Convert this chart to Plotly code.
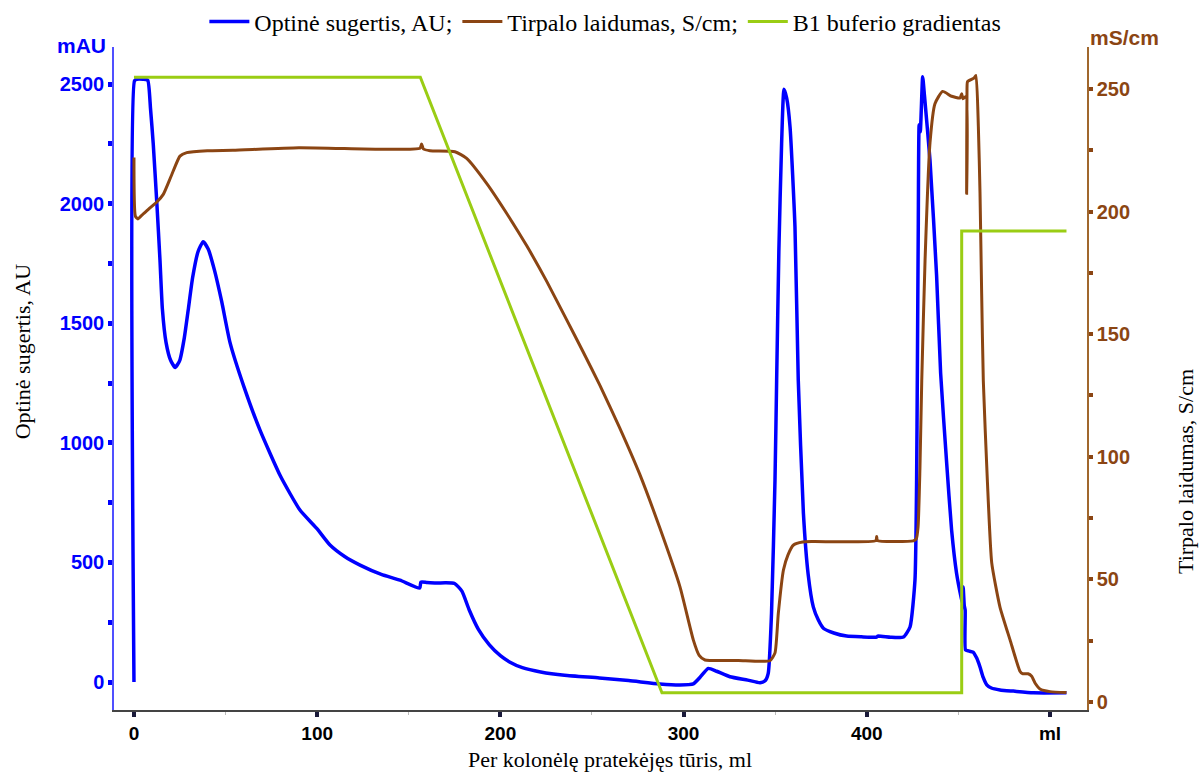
import plotly.graph_objects as go

# ---------------- data ----------------
# Optical absorbance (mAU) vs volume (ml)
blue_ml = [0, 0.3, 1.5, 5, 7.5, 9, 10.5, 12.5, 14.2, 15.5,
           17.5, 20, 22.5, 25, 27.5, 29.6, 32, 35, 37.8, 40.5,
           44, 47.9, 52.4, 60, 68.8, 80, 90.6, 100, 107, 115,
           123.4, 135, 145.2, 156, 156.6, 160, 165, 170, 175, 179,
           183, 188, 194, 200, 205, 212, 222, 235, 254, 270,
           287, 298, 305.3, 309, 313.5, 318, 325.3, 335, 341.7, 344.5,
           346.2, 348, 349.9, 350.8, 352, 353.5, 354.8, 356.3, 358.1, 360.8,
           362.6, 365.4, 368, 370.8, 373.5, 376.3, 382, 389, 397, 405.4,
           406, 413, 420, 423.6, 426.3, 427.2, 427.6, 428.1, 428.6, 429.2,
           430.5, 431.5, 434.5, 438.1, 440.3, 443.6, 446.3, 449, 451.4, 452.2,
           452.6, 453.2, 453.7, 453.9, 455.5, 458, 460, 461.8, 463.5, 465.5,
           468, 472.7, 480, 490.8, 509]
blue_mau = [0, 2514, 2520, 2520, 2516, 2400, 2252, 2000, 1764, 1560,
            1420, 1345, 1315, 1345, 1440, 1555, 1690, 1800, 1841, 1810,
            1720, 1590, 1420, 1235, 1053, 860, 719, 640, 573, 525,
            489, 450, 426, 393, 418, 416, 414, 415, 412, 380,
            301, 220, 155, 110, 84, 60, 42, 28, 17, 6,
            -8, -12.5, -8, 20, 57, 45, 22, 8, -3, 5,
            36, 288, 845, 1262, 1800, 2250, 2478, 2440, 2321, 1903,
            1262, 706, 450, 314, 260, 225, 205, 192, 189, 188,
            192, 187, 188, 230, 426, 845, 1292, 1902, 2330, 2300,
            2531, 2450, 2182, 1700, 1292, 915, 635, 455, 357, 330,
            397, 320, 300, 134, 130, 125, 100, 63, 20, -12,
            -25, -33, -38, -45, -45]

# Conductivity (mS/cm) vs volume (ml)
brown_ml = [0, 0.8, 2.2, 5, 8, 12.6, 16, 20.6, 25.1, 28.8,
            40, 54, 90, 134.3, 156.1, 157, 158, 161.6, 175.2, 181.6,
            192.5, 203.4, 214.4, 225.3, 236.2, 245, 254.4, 265, 276, 287,
            298, 305.3, 308.5,
            311.7, 330, 347.1, 349.9, 351.7, 354.5, 357, 360, 365, 370.8,
            405.0, 405.4, 405.8, 425.4, 427, 428, 429, 430, 431.8, 434.5,
            437.2, 441.4, 446.3, 450.9, 451.8, 452.5, 454.3, 454.5, 454.7, 455,
            458.5, 459.6, 460.9, 461.8, 462.7, 463.6, 465.8, 468.2, 472.7, 478.2,
            483.6, 485, 488, 490, 492, 494.5, 500, 509]
brown_ms = [222, 198, 197, 199, 201, 204, 207, 215, 222.6, 224,
            224.8, 225, 226, 225.4, 225.8, 227.5, 225.5, 224.8, 224.4, 221.7,
            211.5, 199.3, 186, 171.5, 155.8, 143, 129, 112, 93, 71,
            47, 25.3, 19,
            17.1, 16.9, 16.8, 20, 36, 53.8, 60, 64, 65.2, 65.4,
            65.8, 67.5, 65.8, 65.7, 66.5, 71.5, 95, 131, 180, 228,
            244, 249, 247, 246.3, 248, 246, 247, 207.5, 250, 253,
            254.4, 255.5, 234.6, 207.5, 166.6, 131, 90.5, 56.7, 38.7, 25.3,
            12.5, 11.5, 11.5, 10.5, 7.5, 5.3, 4.2, 3.8]

# B1 buffer gradient (%) vs volume (ml)
green_ml = [0, 156.3, 288.2, 451.8, 451.8, 509]
green_pct = [100, 100, 0, 0, 75, 75]

x_tickvals = [0, 100, 200, 300, 400, 500]
x_ticktext = ["0", "100", "200", "300", "400", "ml"]
left_tickvals = [0, 500, 1000, 1500, 2000, 2500]
right_tickvals = [0, 50, 100, 150, 200, 250]

legend_names = ["Optinė sugertis, AU;", "Tirpalo laidumas, S/cm;", "B1 buferio gradientas"]

BLUE = "#0000FF"
BROWN = "#8B4513"
GREEN = "#9ACD14"
SERIF = "Liberation Serif, Times New Roman, serif"
SANS = "Liberation Sans, Arial, sans-serif"

fig = go.Figure()
fig.add_trace(go.Scatter(x=blue_ml, y=blue_mau, mode="lines", name=legend_names[0],
                         line=dict(color=BLUE, width=3.5, shape="spline", smoothing=0.5), yaxis="y"))
fig.add_trace(go.Scatter(x=brown_ml, y=brown_ms, mode="lines", name=legend_names[1],
                         line=dict(color=BROWN, width=3, shape="spline", smoothing=0.5), yaxis="y2"))
fig.add_trace(go.Scatter(x=green_ml, y=green_pct, mode="lines", name=legend_names[2],
                         line=dict(color=GREEN, width=3), yaxis="y3"))

fig.update_layout(
    width=1199, height=776,
    margin=dict(l=114, r=112, t=47, b=66, autoexpand=False),
    paper_bgcolor="white", plot_bgcolor="white",
    showlegend=True,
    legend=dict(orientation="h", x=0.505, y=1.0377, xanchor="center", yanchor="middle",
                font=dict(family=SERIF, size=24, color="black"),
                bgcolor="rgba(0,0,0,0)", itemwidth=40, tracegroupgap=0),
    xaxis=dict(range=[-10.9, 520.2], tickvals=x_tickvals, ticktext=x_ticktext,
               showgrid=False, zeroline=False, showline=True, linecolor="#444444", linewidth=2,
               ticks="outside", ticklen=5, tickwidth=4, tickcolor="#1a1a3a",
               minor=dict(dtick=50, tick0=0, ticks="outside", ticklen=3, tickwidth=1, tickcolor="#bbbbbb"),
               tickfont=dict(family=SANS, size=19, color="black", weight="bold")),
    yaxis=dict(range=[-117, 2655], tickvals=left_tickvals, showgrid=False, zeroline=False,
               showline=True, linecolor="#5050ff", linewidth=1.5,
               ticks="outside", ticklen=4, tickwidth=5, tickcolor=BLUE,
               minor=dict(dtick=250, tick0=0, ticks="outside", ticklen=4, tickwidth=5, tickcolor=BLUE),
               tickfont=dict(family=SANS, size=20, color=BLUE, weight="bold")),
    yaxis2=dict(range=[-3.3, 267.1], tickvals=right_tickvals, overlaying="y", side="right",
                showgrid=False, zeroline=False, showline=True, linecolor="#a0672d", linewidth=1.5,
                ticks="outside", ticklen=4, tickwidth=4, tickcolor=BROWN,
                minor=dict(dtick=25, tick0=0, ticks="outside", ticklen=4, tickwidth=4, tickcolor=BROWN),
                tickfont=dict(family=SANS, size=20, color=BROWN, weight="bold")),
    yaxis3=dict(range=[-2.8, 104.9], overlaying="y", visible=False, showgrid=False, zeroline=False),
    annotations=[
        dict(text="<b>mAU</b>", xref="paper", yref="paper", x=-0.0334, y=1.003,
             xanchor="center", yanchor="middle",
             showarrow=False, font=dict(family=SANS, size=21, color=BLUE)),
        dict(text="<b>mS/cm</b>", xref="paper", yref="paper", x=1.039, y=1.0136,
             xanchor="center", yanchor="middle",
             showarrow=False, font=dict(family=SANS, size=21, color=BROWN)),
        dict(text="Optinė sugertis, AU", xref="paper", yref="paper", x=-0.0946, y=0.541,
             xanchor="center", yanchor="middle",
             textangle=-90, showarrow=False, font=dict(family=SERIF, size=22, color="black")),
        dict(text="Tirpalo laidumas, S/cm", xref="paper", yref="paper", x=1.1018, y=0.359,
             xanchor="center", yanchor="middle",
             textangle=-90, showarrow=False, font=dict(family=SERIF, size=22, color="black")),
        dict(text="Per kolonėlę pratekėjęs tūris, ml", xref="paper", yref="paper", x=0.51, y=-0.0754,
             xanchor="center", yanchor="middle",
             showarrow=False, font=dict(family=SERIF, size=22, color="black")),
    ],
)

fig.write_html("out.html", config={"displayModeBar": False},
               post_script="document.body.style.margin='0px';document.body.style.overflow='hidden';")
